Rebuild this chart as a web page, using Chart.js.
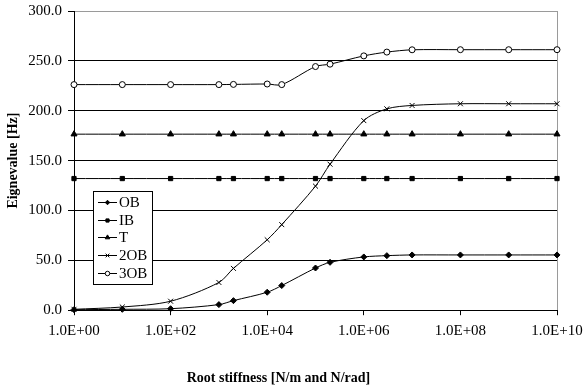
<!DOCTYPE html>
<html>
<head>
<meta charset="utf-8">
<script src="https://cdn.jsdelivr.net/npm/chart.js@4"></script>
<style>
  html, body { margin: 0; padding: 0; background: #fff; }
  #wrap { width: 586px; height: 391px; }
</style>
</head>
<body>
<div id="wrap"><canvas id="chart" width="586" height="391"></canvas></div>
<script>
// stiffness values (x) and eigenvalues per mode
const stiffness = [1, 10, 100, 1000, 2000, 1e4, 2e4, 1e5, 2e5, 1e6, 3e6, 1e7, 1e8, 1e9, 1e10];
const obHz   = [0.5, 0.9, 1.5, 5.6, 9.6, 18.0, 24.7, 42.3, 48.0, 53.4, 54.7, 55.4, 55.4, 55.4, 55.4];
const ibHz   = [132, 132, 132, 132, 132, 132, 132, 132, 132, 132, 132, 132, 132, 132, 132];
const tHz    = [176.5, 176.5, 176.5, 176.5, 176.5, 176.5, 176.5, 176.5, 176.5, 176.5, 176.5, 176.5, 176.5, 176.5, 176.5];
const ob2Hz  = [0.9, 3.2, 9.0, 27.8, 41.9, 70.6, 85.8, 124.4, 146.4, 190.1, 201.9, 205.3, 207, 207, 207];
const ob3Hz  = [226.2, 226.2, 226.2, 226.2, 226.4, 226.8, 226.2, 244.3, 246.7, 255.0, 258.8, 261.1, 261.2, 261.2, 261.2];
const seriesNames = ['OB', 'IB', 'T', '2OB', '3OB'];
const xTicks = [1, 1e2, 1e4, 1e6, 1e8, 1e10];
const yMax = 300, yStep = 50;

const FONT = '"Liberation Serif", "Times New Roman", serif';

const styles = [
  { pointStyle: 'rectRot', radius: 3, bg: '#000' },
  { pointStyle: 'rect', radius: 3, bg: '#000' },
  { pointStyle: 'triangle', radius: 3.5, bg: '#000' },
  { pointStyle: 'crossRot', radius: 3.5, bg: '#000' },
  { pointStyle: 'circle', radius: 3, bg: '#fff' }
];

const pts = arr => arr.map((v, i) => ({ x: stiffness[i], y: v }));
const allSeries = [obHz, ibHz, tHz, ob2Hz, ob3Hz];

const datasets = allSeries.map((arr, i) => ({
  label: seriesNames[i],
  data: pts(arr),
  borderColor: '#000',
  borderWidth: 1,
  tension: 0.3,
  pointStyle: styles[i].pointStyle,
  pointRadius: styles[i].radius,
  pointBackgroundColor: styles[i].bg,
  pointBorderColor: '#000',
  pointBorderWidth: 1,
  clip: false
}));

function fmtExp(v) {
  const e = Math.round(Math.log10(v));
  const m = v / Math.pow(10, e);
  const sign = e < 0 ? '-' : '+';
  return m.toFixed(1) + 'E' + sign + String(Math.abs(e)).padStart(2, '0');
}

// boxed legend inside the plot, excel style
const boxLegend = {
  id: 'boxLegend',
  afterDraw(chart) {
    const ctx = chart.ctx;
    const x0 = 93, y0 = 191, w = 59, h = 93, rowH = 17.7;
    ctx.save();
    ctx.fillStyle = '#fff';
    ctx.fillRect(x0, y0, w, h);
    ctx.strokeStyle = '#000';
    ctx.lineWidth = 1;
    ctx.strokeRect(x0 + 0.5, y0 + 0.5, w, h);
    ctx.font = '15px ' + FONT;
    ctx.textBaseline = 'middle';
    chart.data.datasets.forEach((ds, i) => {
      const cy = Math.round(y0 + 11 + i * rowH) + 0.5;
      ctx.strokeStyle = '#000';
      ctx.beginPath();
      ctx.moveTo(x0 + 5, cy);
      ctx.lineTo(x0 + 24, cy);
      ctx.stroke();
      ctx.fillStyle = ds.pointBackgroundColor;
      ctx.strokeStyle = '#000';
      Chart.helpers.drawPoint(ctx, { pointStyle: ds.pointStyle, radius: ds.pointRadius * 0.75, borderWidth: 1, rotation: 0 }, x0 + 14.5, cy);
      ctx.fillStyle = '#000';
      ctx.fillText(ds.label, x0 + 26, cy + 0.5);
    });
    ctx.restore();
  }
};

new Chart(document.getElementById('chart'), {
  type: 'line',
  data: { datasets },
  plugins: [boxLegend],
  options: {
    responsive: false,
    animation: false,
    layout: { padding: { left: 0, right: 29, top: 11, bottom: 0 } },
    plugins: {
      legend: { display: false },
      tooltip: { enabled: false },
      title: {
        display: true,
        position: 'bottom',
        text: 'Root stiffness [N/m and N/rad]',
        color: '#000',
        font: { family: FONT, size: 14, weight: 'bold' },
        padding: { top: 0, bottom: 4 }
      }
    },
    scales: {
      x: {
        type: 'logarithmic',
        min: 1, max: 1e10,
        afterBuildTicks: s => { s.ticks = xTicks.map(v => ({ value: v })); },
        afterFit: s => { s.height = 60; s.paddingLeft = 0; s.paddingRight = 0; },
        border: { color: '#000', width: 1 },
        grid: {
          drawOnChartArea: true,
          color: c => (c.tick && c.tick.value === 1e10) ? '#9a9a9a' : 'rgba(0,0,0,0)',
          tickColor: '#000',
          tickLength: 5
        },
        ticks: {
          color: '#000',
          font: { family: FONT, size: 15 },
          padding: 7,
          maxRotation: 0,
          autoSkip: false,
          callback: v => fmtExp(v)
        }
      },
      y: {
        min: 0, max: yMax,
        afterFit: s => { s.width = 74; s.paddingTop = 0; s.paddingBottom = 0; },
        border: { color: '#000', width: 1 },
        grid: {
          color: c => (c.tick && c.tick.value === yMax) ? '#9a9a9a' : '#000',
          tickColor: '#000',
          tickLength: 6
        },
        ticks: {
          stepSize: yStep,
          color: '#000',
          font: { family: FONT, size: 15 },
          padding: 6,
          callback: v => v.toFixed(1)
        },
        title: {
          display: true,
          text: 'Eignevalue [Hz]',
          color: '#000',
          font: { family: FONT, size: 14, weight: 'bold' },
          padding: { top: 5, bottom: 0 }
        }
      }
    }
  }
});
</script>
</body>
</html>
